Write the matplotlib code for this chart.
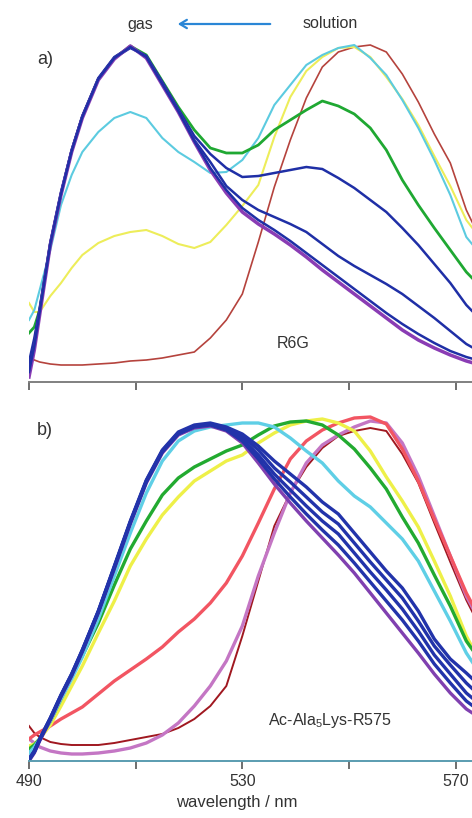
import matplotlib
matplotlib.use("Agg")
from matplotlib import pyplot as plt

plt.rcParams['font.family'] = ['Liberation Sans', 'DejaVu Sans']
plt.rcParams['mathtext.default'] = 'regular'

# wavelength grid (nm), intensities in arbitrary units
wl = [490, 491, 492, 494, 496, 498, 500, 503, 506, 509, 512, 515, 518, 521, 524, 527,
      530, 533, 536, 539, 542, 545, 548, 551, 554, 557, 560, 563, 566, 569, 572, 574]

# panel a) R6G
a_purple = [5, 32, 67, 137, 187, 230, 264, 302, 323, 336, 324, 297, 270, 240, 212, 189,
            170, 158, 148, 137, 125, 112, 100, 88, 76, 64, 52, 42, 34, 27, 21, 18]
a_blue_low = [10, 36, 70, 138, 188, 231, 265, 303, 324, 335, 325, 298, 271, 241, 214, 192,
              174, 162, 152, 141, 129, 117, 105, 93, 81, 69, 58, 48, 39, 31, 25, 22]
a_blue_mid = [15, 40, 72, 139, 189, 232, 266, 303, 324, 334, 326, 299, 272, 242, 220, 196,
              182, 172, 165, 158, 150, 138, 126, 116, 107, 98, 88, 76, 64, 51, 38, 32]
a_blue_plat = [20, 44, 74, 140, 190, 232, 266, 304, 325, 335, 326, 300, 273, 246, 228, 214,
               205, 206, 209, 212, 215, 213, 204, 194, 182, 170, 154, 137, 118, 99, 77, 66]
a_green = [49, 55, 72, 138, 188, 231, 265, 303, 324, 336, 327, 301, 275, 252, 234, 229,
           229, 237, 252, 262, 272, 281, 276, 268, 254, 232, 202, 177, 154, 132, 110, 99]
a_cyan = [62, 72, 92, 132, 177, 207, 230, 250, 264, 270, 264, 244, 230, 220, 209, 210,
          222, 244, 277, 297, 317, 327, 334, 337, 324, 307, 282, 254, 222, 187, 145, 132]
a_yellow = [79, 70, 70, 86, 99, 114, 127, 139, 146, 150, 152, 146, 138, 134, 140, 157,
            176, 197, 245, 285, 311, 325, 334, 335, 325, 305, 283, 257, 226, 196, 162, 148]
a_brown = [25, 22, 20, 18, 17, 17, 17, 18, 19, 21, 22, 24, 27, 30, 44, 62,
           88, 140, 195, 242, 284, 315, 330, 335, 337, 330, 308, 280, 248, 219, 172, 150]

# panel b) Ac-Ala5Lys-R575
b_blue1 = [2, 10, 22, 43, 66, 87, 111, 150, 195, 240, 281, 311, 329, 336, 338, 334,
           327, 315, 300, 287, 274, 259, 247, 228, 209, 190, 173, 150, 122, 102, 88, 78]
b_blue2 = [2, 10, 22, 43, 66, 87, 111, 150, 194, 239, 280, 310, 328, 335, 337, 333,
           325, 311, 293, 279, 264, 249, 237, 218, 199, 181, 163, 140, 115, 96, 78, 68]
b_blue3 = [1, 9, 21, 42, 65, 86, 110, 149, 194, 239, 280, 310, 328, 335, 337, 332,
           322, 306, 287, 271, 255, 240, 227, 208, 189, 171, 152, 130, 106, 87, 68, 59]
b_blue4 = [1, 9, 21, 42, 65, 86, 110, 149, 193, 238, 279, 309, 327, 334, 336, 331,
           320, 302, 282, 264, 247, 231, 216, 198, 179, 160, 141, 120, 97, 78, 60, 52]
b_purple = [0, 8, 20, 41, 64, 85, 109, 148, 192, 237, 278, 308, 326, 333, 335, 330,
            318, 298, 277, 258, 240, 223, 206, 188, 168, 148, 128, 108, 87, 68, 52, 45]
b_cyan = [8, 14, 22, 40, 62, 82, 104, 142, 185, 228, 268, 300, 320, 330, 334, 336,
          338, 338, 334, 323, 310, 298, 280, 265, 254, 238, 222, 200, 170, 140, 108, 92]
b_green = [12, 16, 22, 40, 62, 84, 105, 138, 176, 212, 240, 266, 283, 294, 302, 310,
           316, 326, 335, 339, 340, 336, 326, 312, 293, 272, 244, 218, 186, 155, 120, 105]
b_yellow = [15, 17, 22, 36, 55, 75, 95, 128, 160, 195, 222, 246, 264, 280, 290, 300,
            306, 318, 328, 336, 340, 342, 338, 330, 310, 284, 260, 234, 200, 165, 125, 105]
b_red = [22, 26, 29, 35, 42, 48, 54, 67, 80, 91, 102, 114, 129, 142, 158, 178,
         205, 238, 272, 302, 320, 331, 338, 343, 344, 337, 312, 280, 242, 205, 168, 148]
b_magenta = [22, 18, 14, 10, 8, 7, 7, 8, 10, 13, 18, 26, 38, 55, 75, 100,
             135, 185, 228, 268, 298, 316, 326, 334, 340, 338, 318, 285, 245, 205, 165, 145]
b_darkred = [35, 28, 24, 19, 17, 16, 16, 16, 18, 21, 24, 27, 33, 42, 55, 75,
             125, 180, 235, 268, 294, 313, 325, 330, 333, 330, 307, 278, 238, 199, 161, 140]

fig = plt.figure(figsize=(4.72, 8.18), dpi=100)
ax_a = fig.add_axes([29 / 472, (818 - 382) / 818, 443 / 472, 346 / 818])
ax_b = fig.add_axes([29 / 472, (818 - 761) / 818, 443 / 472, 348 / 818])

lw_a = 1.5
ax_a.plot(wl, a_brown, color='#b5433d', lw=1.2)
ax_a.plot(wl, a_yellow, color='#eded5a', lw=lw_a)
ax_a.plot(wl, a_cyan, color='#5ccbe0', lw=lw_a)
ax_a.plot(wl, a_green, color='#1fa832', lw=lw_a + 0.5)
ax_a.plot(wl, a_blue_plat, color='#1f2fa6', lw=lw_a + 0.3)
ax_a.plot(wl, a_blue_mid, color='#1f2fa6', lw=lw_a + 0.3)
ax_a.plot(wl, a_purple, color='#8a3cb4', lw=lw_a + 1.0)
ax_a.plot(wl, a_blue_low, color='#1f2fa6', lw=lw_a + 0.3)

lw_b = 2.4
ax_b.plot(wl, b_darkred, color='#a01820', lw=1.4)
ax_b.plot(wl, b_magenta, color='#c476c4', lw=lw_b)
ax_b.plot(wl, b_red, color='#f25562', lw=lw_b)
ax_b.plot(wl, b_yellow, color='#eef048', lw=lw_b)
ax_b.plot(wl, b_green, color='#22aa30', lw=lw_b)
ax_b.plot(wl, b_cyan, color='#5fcfe6', lw=lw_b)
ax_b.plot(wl, b_purple, color='#8040b0', lw=lw_b)
ax_b.plot(wl, b_blue4, color='#2233aa', lw=lw_b)
ax_b.plot(wl, b_blue3, color='#2233aa', lw=lw_b)
ax_b.plot(wl, b_blue2, color='#2233aa', lw=lw_b)
ax_b.plot(wl, b_blue1, color='#2233aa', lw=lw_b)

ax_a.set_ylim(0, 346)
ax_b.set_ylim(0, 348)
for ax, spine_col in ((ax_a, '#808080'), (ax_b, '#5a9cb0')):
    ax.set_xlim(490, 490 + 443 / 5.333)
    for s in ('left', 'right', 'top'):
        ax.spines[s].set_visible(False)
    ax.spines['bottom'].set_color(spine_col)
    ax.spines['bottom'].set_linewidth(1.4)
    ax.set_yticks([])
    ax.set_xticks([490, 510, 530, 550, 570])
    ax.tick_params(axis='x', direction='out', length=6, width=1.2, color='#555555',
                   labelsize=11.5, labelcolor='#333333', pad=3)
    ax.patch.set_alpha(0)

ax_a.set_xticklabels([])
ax_b.set_xticklabels(['490', '', '530', '', '570'])

fig.text(45 / 472, 1 - 60 / 818, 'a)', fontsize=13, color='#333333', ha='center', va='center')
fig.text(45 / 472, 1 - 430 / 818, 'b)', fontsize=13, color='#333333', ha='center', va='center')
fig.text(140 / 472, 1 - 24 / 818, 'gas', fontsize=11.5, color='#333333', ha='center', va='center')
fig.text(330 / 472, 1 - 24 / 818, 'solution', fontsize=11.5, color='#333333', ha='center', va='center')
fig.add_artist(matplotlib.patches.FancyArrowPatch(
    (273 / 472, 1 - 24 / 818), (175 / 472, 1 - 24 / 818), transform=fig.transFigure,
    arrowstyle='->,head_length=5,head_width=3', color='#2a86d6', lw=1.6))
fig.text(293 / 472, 1 - 344 / 818, 'R6G', fontsize=11.5, color='#333333', ha='center', va='center')
fig.text(330 / 472, 1 - 720 / 818, 'Ac-Ala$_5$Lys-R575', fontsize=11.5, color='#333333',
         ha='center', va='center')
fig.text(237 / 472, 1 - 803 / 818, 'wavelength / nm', fontsize=12, color='#333333',
         ha='center', va='center')

fig.savefig('out.png', dpi=100)
